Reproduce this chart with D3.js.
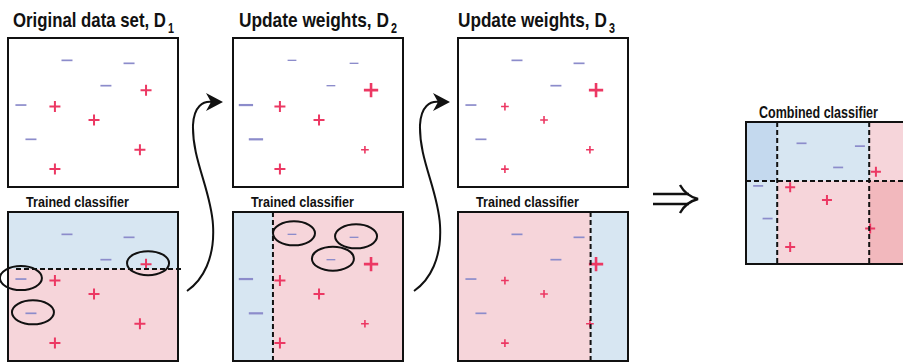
<!DOCTYPE html>
<html><head><meta charset="utf-8">
<script src="https://cdn.jsdelivr.net/npm/d3@7"></script>
<style>
html,body{margin:0;padding:0;background:#fff;}
svg{display:block;}
text{font-family:"Liberation Sans",Arial,sans-serif;}
</style></head>
<body>
<svg id="chart" width="903" height="362"></svg>
<script>
// ---- data ----
const labels = ['-','-','-','+','-','+','+','-','+','+'];
const xs = [3.47, 7.12, 5.76, 8.12, 0.76, 2.76, 5.06, 1.35, 7.76, 2.76];
const ys = [8.5, 8.3, 6.8, 6.5, 5.5, 5.4, 4.5, 3.2, 2.5, 1.2];
const weightsD1 = [1, 1, 1, 1, 1, 1, 1, 1, 1, 1];
const weightsD2 = [0.8, 0.8, 0.8, 1.3, 1.3, 1, 1, 1.3, 0.7, 1];
const weightsD3 = [1, 1, 1, 1.3, 1, 0.7, 0.7, 1, 0.7, 0.7];
const titles = ['Original data set, D', 'Update weights, D', 'Update weights, D'];
const titleSubs = ['1', '2', '3'];
const classifierLabel = 'Trained classifier';
const combinedLabel = 'Combined classifier';
// stump per round: axis, threshold, class on low side
const stumpAxis = ['y', 'x', 'x'];
const stumpValue = [6.17, 2.35, 7.8];
const stumpLowClass = ['+', '-', '+'];
const misclassified = [[3, 4, 7], [0, 1, 2], []];
const combinedXSplits = [1.95, 7.7];
const combinedYSplit = 5.85;

// ---- layout ----
const svg = d3.select('#chart');
const panelLeft = [8, 233, 458];
const titleLeft = [13, 239, 458];
const titleWidth = [153, 150, 149];
const boxW = 170, boxH = 149;
const topY = 38, botY = 212;
const colBlue = '#d7e6f2', colPink = '#f6d5da', colBlueDark = '#c4d9ee', colPinkDark = '#f2b8bd';
const plusCol = '#ec3863', minusCol = '#8c8ccb';
const allWeights = [weightsD1, weightsD2, weightsD3];

function drawMarkers(g, x, y, weights, base) {
  const size = d3.scaleLinear().domain([0, 1]).range([0, base]);
  const pts = labels.map((l, i) => ({l, x: xs[i], y: ys[i], w: weights[i]}));
  g.selectAll('path.pt').data(pts).join('path')
    .attr('class', 'pt')
    .attr('transform', d => `translate(${x(d.x)},${y(d.y)})`)
    .attr('d', d => {
      const s = size(d.w) / 2;
      return d.l === '+' ? `M${-s},0H${s}M0,${-s}V${s}` : `M${-s},0H${s}`;
    })
    .attr('stroke', d => d.l === '+' ? plusCol : minusCol)
    .attr('stroke-width', d => d.l === '+' ? 2 * Math.max(d.w, 0.8) : 1.7 * Math.max(d.w, 0.8))
    .attr('fill', 'none');
}

function boxFrame(g, w, h) {
  g.append('rect').attr('x', 0).attr('y', 0).attr('width', w).attr('height', h)
    .attr('fill', 'none').attr('stroke', '#111').attr('stroke-width', 2);
}

// bold text horizontally condensed to a given width
function condensedText(xp, yp, str, size, len) {
  const g = svg.append('g');
  const t = g.append('text').attr('x', 0).attr('y', 0)
    .attr('font-size', size).attr('font-weight', 'bold').attr('fill', '#111')
    .text(str);
  const nat = t.node().getComputedTextLength() || len;
  g.attr('transform', `translate(${xp},${yp}) scale(${len / nat},1)`);
  return t;
}

for (let p = 0; p < 3; p++) {
  const x0 = panelLeft[p];
  const x = d3.scaleLinear().domain([0, 10]).range([0, boxW]);
  const y = d3.scaleLinear().domain([0, 10]).range([boxH, 0]);
  // title
  condensedText(titleLeft[p], 27, titles[p], 20, titleWidth[p]);
  condensedText(titleLeft[p] + titleWidth[p] + 2, 33, titleSubs[p], 15, 6);

  // top box
  const gt = svg.append('g').attr('transform', `translate(${x0},${topY})`);
  gt.append('rect').attr('width', boxW).attr('height', boxH).attr('fill', '#fff');
  drawMarkers(gt, x, y, allWeights[p], 11);
  boxFrame(gt, boxW, boxH);

  // label
  condensedText(x0 + 18, 206.5, classifierLabel, 15.5, 103);

  // bottom box
  const gb = svg.append('g').attr('transform', `translate(${x0},${botY})`);
  const ax = stumpAxis[p], v = stumpValue[p];
  const lowCol = stumpLowClass[p] === '+' ? colPink : colBlue;
  const highCol = stumpLowClass[p] === '+' ? colBlue : colPink;
  if (ax === 'y') {
    gb.append('rect').attr('x', 0).attr('y', y(10)).attr('width', boxW).attr('height', y(v) - y(10)).attr('fill', highCol);
    gb.append('rect').attr('x', 0).attr('y', y(v)).attr('width', boxW).attr('height', y(0) - y(v)).attr('fill', lowCol);
  } else {
    gb.append('rect').attr('x', x(0)).attr('y', 0).attr('width', x(v) - x(0)).attr('height', boxH).attr('fill', lowCol);
    gb.append('rect').attr('x', x(v)).attr('y', 0).attr('width', x(10) - x(v)).attr('height', boxH).attr('fill', highCol);
  }
  drawMarkers(gb, x, y, allWeights[p], 11);
  // ellipses
  gb.selectAll('ellipse').data(misclassified[p]).join('ellipse')
    .attr('cx', i => x(xs[i]) + (p === 0 && i === 4 ? 0 : 2))
    .attr('cy', i => y(ys[i]) - 1)
    .attr('rx', 21).attr('ry', 12)
    .attr('fill', 'none').attr('stroke', '#111').attr('stroke-width', 2);
  boxFrame(gb, boxW, boxH);
  if (ax === 'y') {
    gb.append('line').attr('x1', x(0) + 8).attr('x2', x(10) + 4).attr('y1', y(v)).attr('y2', y(v))
      .attr('stroke', '#111').attr('stroke-width', 2).attr('stroke-dasharray', '5,3');
  } else {
    gb.append('line').attr('x1', x(v)).attr('x2', x(v)).attr('y1', 0).attr('y2', boxH)
      .attr('stroke', '#111').attr('stroke-width', 2).attr('stroke-dasharray', '5,3');
  }
}

// curved arrows between panels
const arrowOffsets = [0, 227];
arrowOffsets.forEach(o => {
  const g = svg.append('g').attr('transform', `translate(${o},0)`);
  g.append('path')
    .attr('d', 'M187,291 C203,280 215,258 213,225 C211,190 192,160 193,125 C194,106 203,101 212,102')
    .attr('fill', 'none').attr('stroke', '#111').attr('stroke-width', 2);
  g.append('path').attr('d', 'M223,102 L206,93 L211,102 L206,111 Z').attr('fill', '#111');
});

// double arrow
const da = svg.append('g');
da.append('path').attr('d', 'M653,194H689M653,204H689').attr('stroke', '#111').attr('stroke-width', 2.6);
da.append('path').attr('d', 'M680,185 Q686,196 698,199 Q686,202 680,213')
  .attr('fill', 'none').attr('stroke', '#111').attr('stroke-width', 2.4);

// combined classifier
const cx0 = 746, cy0 = 122, cW = 160, cH = 142;
const cxs = d3.scaleLinear().domain([0, 10]).range([0, cW]);
const cys = d3.scaleLinear().domain([0, 10]).range([cH, 0]);
condensedText(759, 117.5, combinedLabel, 16, 119);
const gc = svg.append('g').attr('transform', `translate(${cx0},${cy0})`);
const xb = [0, combinedXSplits[0], combinedXSplits[1], 10];
const yb = [10, combinedYSplit, 0];
const cellCols = [[colBlueDark, colBlue, colPink], [colBlue, colPink, colPinkDark]];
for (let r = 0; r < 2; r++) for (let c = 0; c < 3; c++) {
  gc.append('rect').attr('x', cxs(xb[c])).attr('y', cys(yb[r]))
    .attr('width', cxs(xb[c + 1]) - cxs(xb[c])).attr('height', cys(yb[r + 1]) - cys(yb[r]))
    .attr('fill', cellCols[r][c]);
}
drawMarkers(gc, cxs, cys, weightsD1, 10);
boxFrame(gc, cW, cH);
combinedXSplits.forEach(v => {
  gc.append('line').attr('x1', cxs(v)).attr('x2', cxs(v)).attr('y1', 0).attr('y2', cH)
    .attr('stroke', '#111').attr('stroke-width', 2).attr('stroke-dasharray', '5,3');
});
gc.append('line').attr('x1', 0).attr('x2', cW).attr('y1', cys(combinedYSplit)).attr('y2', cys(combinedYSplit))
  .attr('stroke', '#111').attr('stroke-width', 2).attr('stroke-dasharray', '5,3');
</script>
</body></html>
